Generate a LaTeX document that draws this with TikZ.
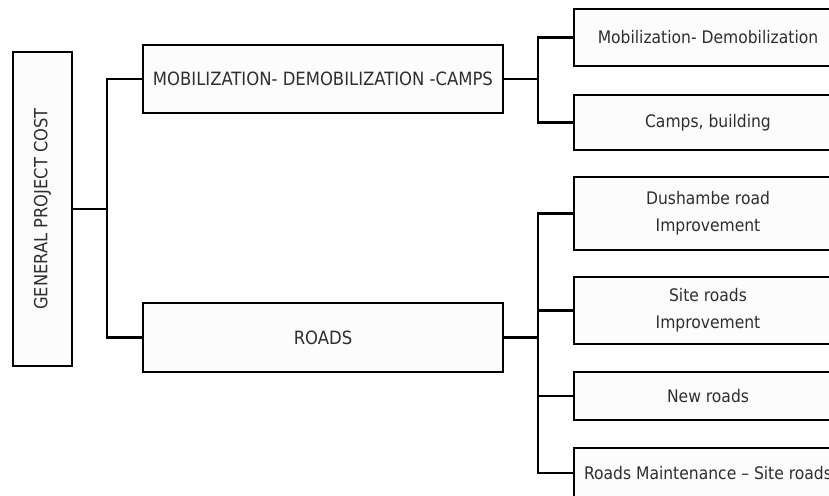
\documentclass[tikz,border=0pt]{standalone}
\usepackage{fontspec}
\setmainfont{DejaVu Sans Condensed}
\definecolor{txt}{HTML}{2E2E2E}
\definecolor{boxfill}{HTML}{FCFCFC}
\begin{document}
\begin{tikzpicture}[x=1pt,y=-1pt,
  box/.style={draw=black,line width=2.2pt,fill=boxfill,rectangle,inner sep=0pt,
    text=txt,font=\fontsize{17.3}{27}\selectfont,align=center},
  capsbox/.style={box,font=\fontsize{18.3}{27}\selectfont},
  link/.style={draw=black,line width=2.2pt}]
\useasboundingbox (0,0) rectangle (829,495);
\clip (0,0) rectangle (829,495);
\fill[white] (0,0) rectangle (829,495);
\node[box,minimum width=59pt,minimum height=314pt] (gpc) at (42.5,209) {};
\node[rotate=90,text=txt,font=\fontsize{18.1}{20}\selectfont,inner sep=0pt] (gpct) at (gpc.center) {GENERAL PROJECT COST};
\node[capsbox,minimum width=360pt,minimum height=68pt] (mob) at (323,79) {MOBILIZATION- DEMOBILIZATION -CAMPS};
\node[capsbox,minimum width=360pt,minimum height=69pt] (roads) at (323,337.5) {ROADS};
\node[box,minimum width=268pt,minimum height=57pt] (r1) at (708,37.5) {Mobilization- Demobilization};
\node[box,minimum width=268pt,minimum height=55pt] (r2) at (708,122.5) {Camps, building};
\node[box,minimum width=268pt,minimum height=73pt] (r3) at (708,213.5) {Dushambe road\\Improvement};
\node[box,minimum width=268pt,minimum height=67pt] (r4) at (708,310.5) {Site roads\\Improvement};
\node[box,minimum width=268pt,minimum height=48pt] (r5) at (708,396) {New roads};
\node[box,minimum width=268pt,minimum height=50pt] (r6) at (708,473) {Roads Maintenance -- Site roads};
\coordinate (b1) at (107,209);
\coordinate (b2) at (538,79);
\coordinate (b3) at (538,337.5);
\draw[link] (gpc.east) -- (b1);
\draw[link] (mob.west) -| (b1);
\draw[link] (roads.west) -| (b1);
\draw[link] (mob.east) -- (b2);
\draw[link] (r1.west) -| (b2);
\draw[link] (r2.west) -| (b2);
\draw[link] (roads.east) -- (b3);
\draw[link] (r3.west) -| (b3);
\draw[link] (r4.west) -| (b3);
\draw[link] (r5.west) -| (b3);
\draw[link] (r6.west) -| (b3);
\end{tikzpicture}
\end{document}
